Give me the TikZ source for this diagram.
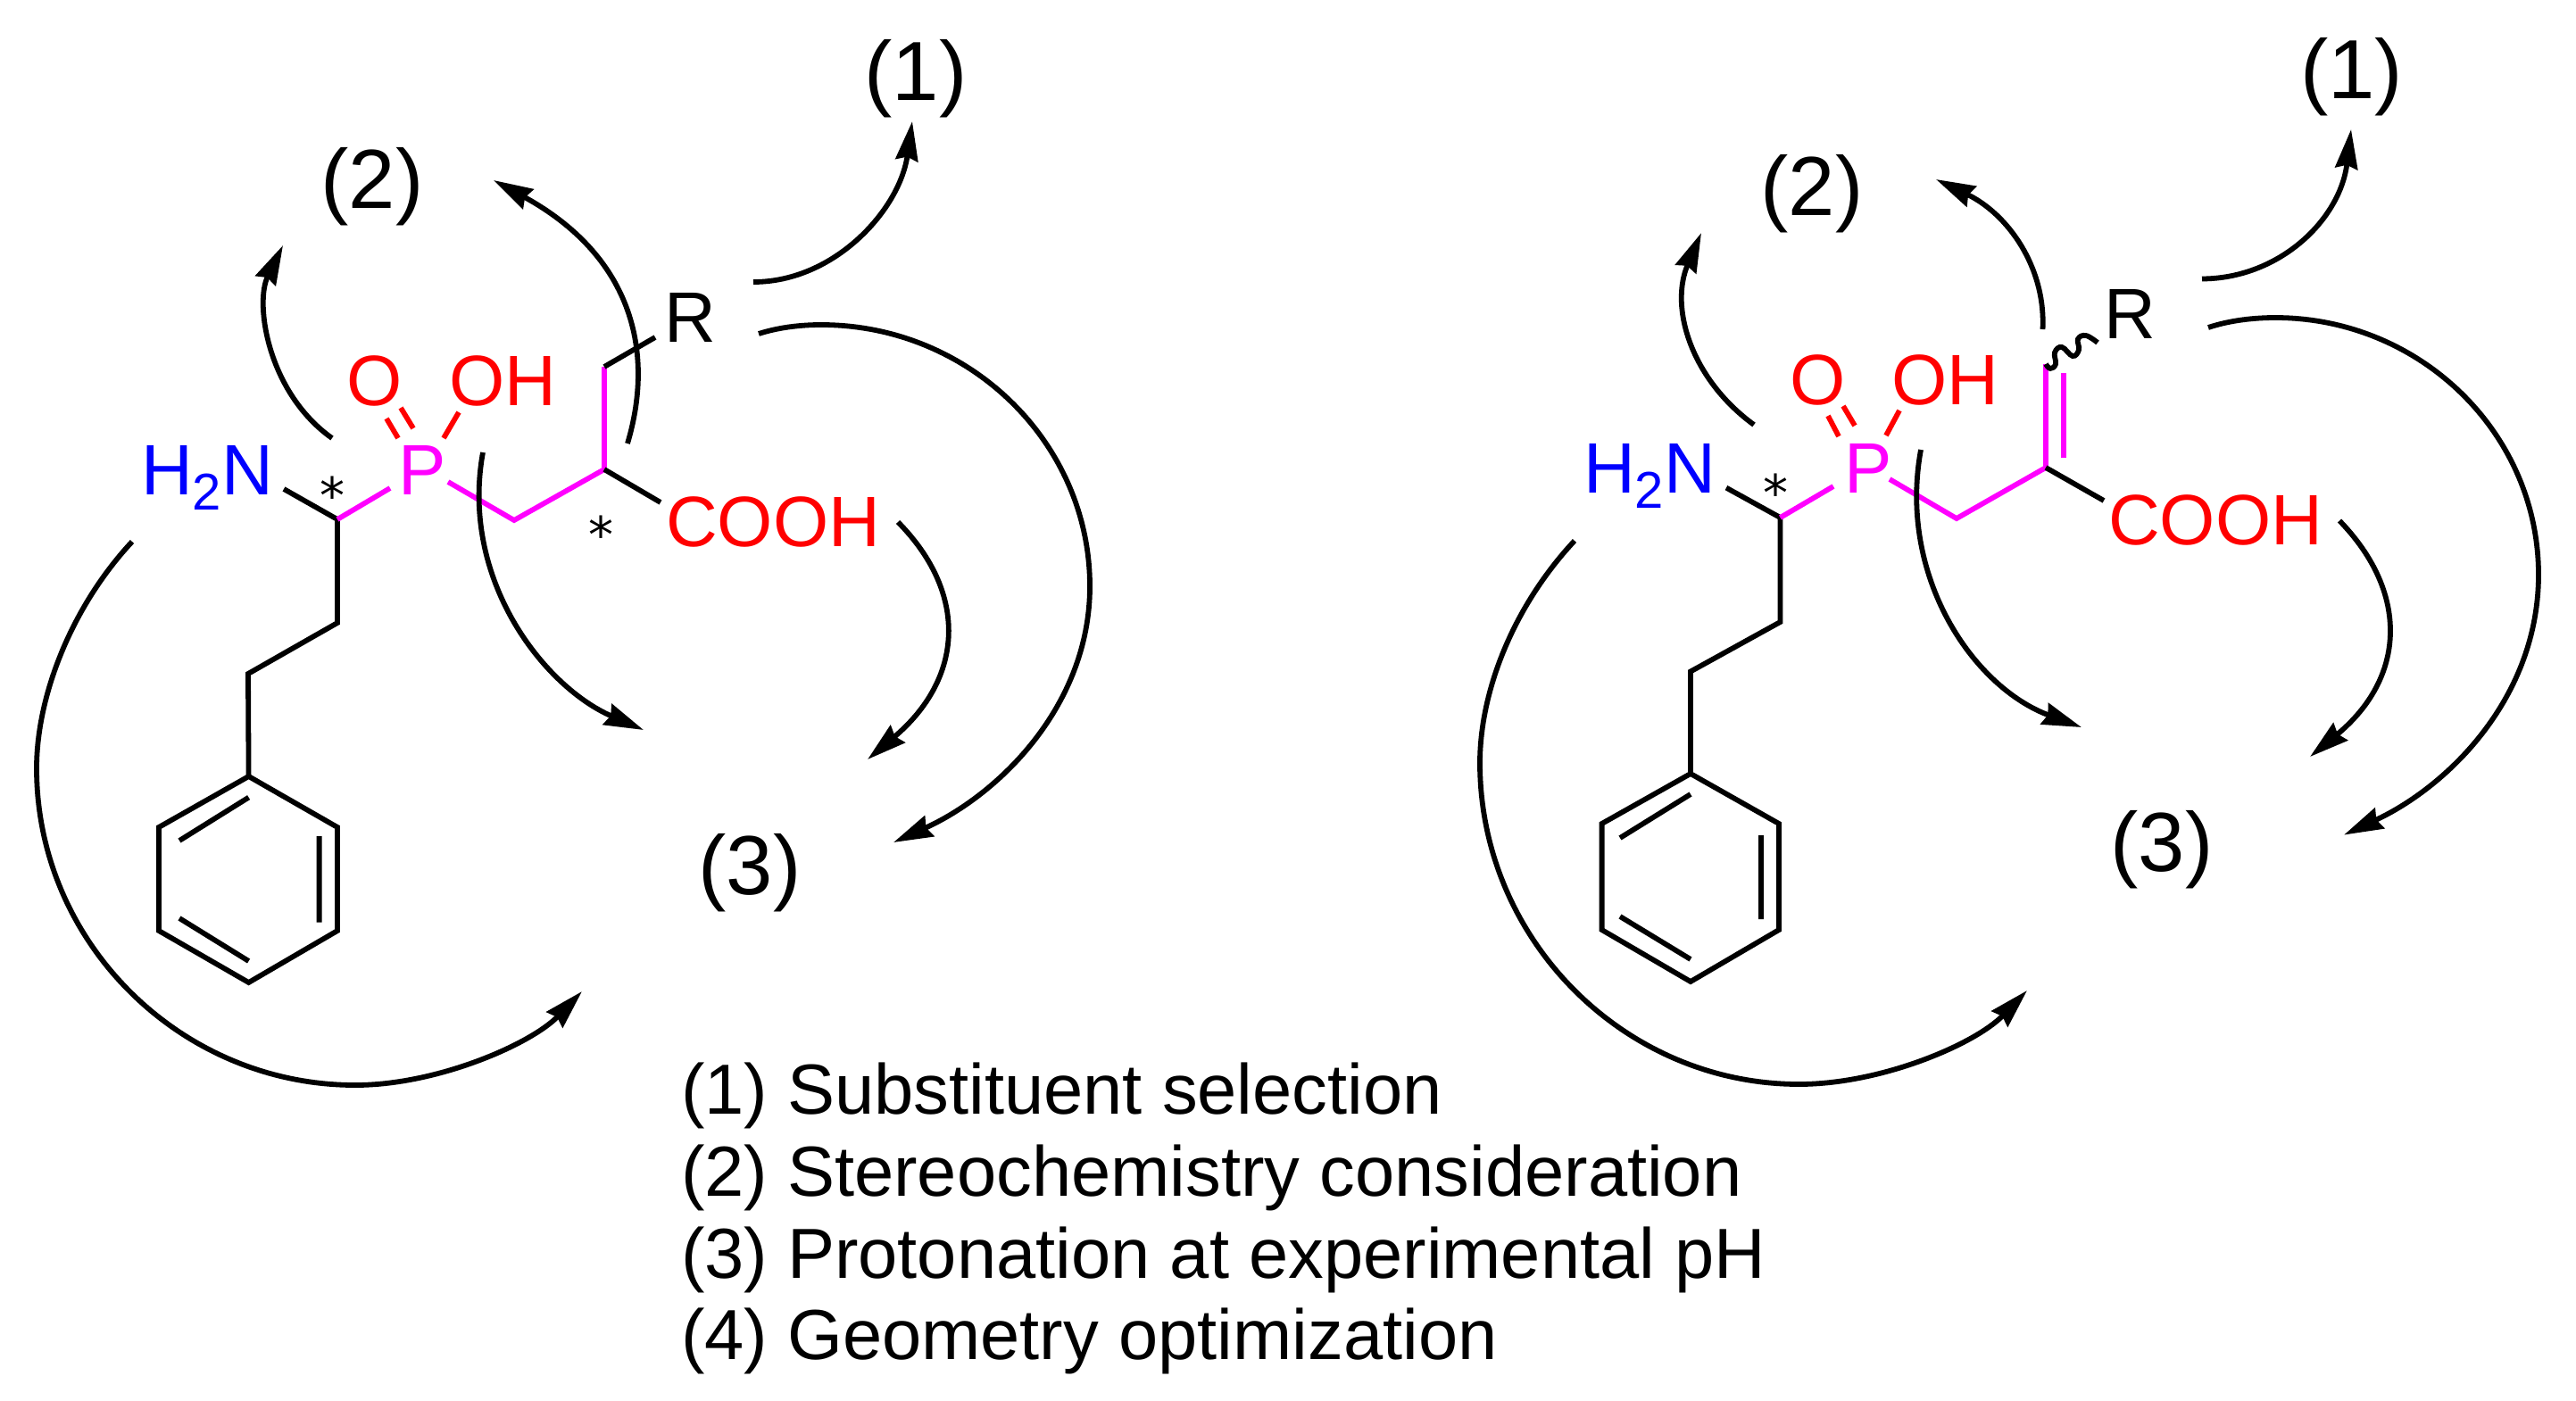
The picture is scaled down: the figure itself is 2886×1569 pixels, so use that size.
\documentclass[tikz,border=0pt]{standalone}
\usepackage{fontspec}
\setmainfont{Liberation Sans}
\newfontfamily\starfont{DejaVu Sans}
\usetikzlibrary{arrows.meta}
\tikzset{
  bond/.style={line width=5.8pt,black},
  pbond/.style={line width=5.8pt,magenta},
  rbond/.style={line width=5.8pt,red},
  arc/.style={line width=5.8pt,black,-{Stealth[length=44pt,width=25pt,inset=4pt]}},
  atom/.style={inner sep=0pt,outer sep=0pt,anchor=base west,font=\fontsize{80}{82}\selectfont},
  step label/.style={inner sep=0pt,outer sep=0pt,anchor=base,font=\fontsize{94}{96}\selectfont},
  legend/.style={inner sep=0pt,outer sep=0pt,anchor=base west,font=\fontsize{79.5}{80}\selectfont},
  starmark/.style={inner sep=0pt,outer sep=0pt,anchor=base,font=\starfont\fontsize{56}{60}\selectfont},
}
\definecolor{magenta}{RGB}{255,0,255}
\definecolor{red}{RGB}{255,0,0}
\definecolor{blue}{RGB}{0,0,255}
\newcommand{\Hsub}{H\raisebox{-17pt}{\fontsize{58}{58}\selectfont 2}N}
\begin{document}
\begin{tikzpicture}[x=1pt,y=-1pt]
\useasboundingbox (0,0) rectangle (2886,1569);
% ===== left molecule =====
\coordinate (c1) at (378,582);
\coordinate (cn) at (318,548);
\coordinate (cp) at (437,547);
\coordinate (pc) at (502,540);
\coordinate (ch2) at (576,583);
\coordinate (ch) at (677,526);
\coordinate (cr) at (677,411);
\coordinate (rb) at (734,378);
\coordinate (cooh) at (740,563);
\coordinate (c2) at (378,698);
\coordinate (c3) at (278,755);
\coordinate (r1) at (278.6,870);
\coordinate (r2) at (378,927);
\coordinate (r3) at (378,1043);
\coordinate (r4) at (278.6,1101);
\coordinate (r5) at (178,1043);
\coordinate (r6) at (178,927);
\node[atom,text=blue] (nh) at (158,554) {\Hsub};
\node[atom,text=magenta] (pa) at (446,554) {P};
\node[atom,text=red] (oa) at (388,454) {O};
\node[atom,text=red] (oh) at (503,454) {OH};
\node[atom] (ra) at (744,383) {R};
\node[atom,text=red] (ca) at (746,612) {COOH};
\node[starmark] (s1) at (372,575) {*};
\node[starmark] (s2) at (673,619) {*};
\draw[bond] (cn) -- (c1) -- (c2) -- (c3) -- (r1);
\draw[pbond] (c1) -- (cp);
\draw[pbond,line join=miter] (pc) -- (ch2) -- (ch) -- (cr);
\draw[bond] (cr) -- (rb);
\draw[bond] (ch) -- (cooh);
\draw[rbond] (433,469) -- (446,491) (449,457) -- (463,480) (514,462) -- (497,491);
\draw[bond,line join=miter] (r1) -- (r2) -- (r3) -- (r4) -- (r5) -- (r6) -- cycle;
\draw[bond] (278.6,893.6) -- (201,942) (357.6,937) -- (357.6,1033.5) (201,1029) -- (278.6,1077);
% labels
\node[step label] (l1a) at (1026,112) {(1)};
\node[step label] (l2a) at (417,233) {(2)};
\node[step label] (l3a) at (840,1002) {(3)};
% arrows
\coordinate (a1s) at (844,316); \coordinate (a1e) at (1022,136);
\draw[arc] (a1s) .. controls (935,316) and (1008,235) .. (a1e);
\coordinate (a2s) at (372,491); \coordinate (a2e) at (317,275);
\draw[arc] (a2s) .. controls (300,440) and (285,340) .. (a2e);
\coordinate (a3s) at (703,497); \coordinate (a3e) at (553,202);
\draw[arc] (a3s) .. controls (735,390) and (705,285) .. (a3e);
\coordinate (a4s) at (541,507); \coordinate (a4e) at (721,818);
\draw[arc] (a4s) .. controls (515,650) and (610,770) .. (a4e);
\coordinate (a5s) at (1006,585); \coordinate (a5e) at (972,851);
\draw[arc] (a5s) .. controls (1085,665) and (1080,760) .. (a5e);
\coordinate (a6s) at (850,374); \coordinate (a6t) at (920,364); \coordinate (a6m) at (1221,657); \coordinate (a6e) at (1001,944);
\draw[arc] (a6s) .. controls (872,367) and (896,364) .. (a6t) .. controls (1086,364) and (1221,496) .. (a6m) .. controls (1221,790) and (1120,890) .. (a6e);
\coordinate (a7s) at (148,607); \coordinate (a7m) at (41,861); \coordinate (a7b) at (398,1216); \coordinate (a7e) at (652,1111);
\draw[arc] (a7s) .. controls (80,680) and (41,780) .. (a7m) .. controls (41,1056) and (202,1216) .. (a7b) .. controls (490,1216) and (595,1170) .. (a7e);
% ===== right molecule =====
\coordinate (dc1) at (1994.5,580);
\coordinate (dcn) at (1934,546.6);
\coordinate (dcp) at (2054,545);
\coordinate (dpc) at (2117,537);
\coordinate (dch2) at (2192,581);
\coordinate (dch) at (2292,524);
\coordinate (dcr) at (2292,408);
\coordinate (dsq) at (2350,384);
\coordinate (dcooh) at (2357,561);
\coordinate (dc2) at (1994.5,697);
\coordinate (dc3) at (1894,752.5);
\coordinate (dr1) at (1894,867);
\coordinate (dr2) at (1993,923);
\coordinate (dr3) at (1993,1042);
\coordinate (dr4) at (1894,1100);
\coordinate (dr5) at (1794.6,1042);
\coordinate (dr6) at (1794.6,923);
\node[atom,text=blue] (dnh) at (1774,552) {\Hsub};
\node[atom,text=magenta] (dpa) at (2066,552) {P};
\node[atom,text=red] (doa) at (2005,453) {O};
\node[atom,text=red] (doh) at (2119,453) {OH};
\node[atom] (dra) at (2357,379) {R};
\node[atom,text=red] (dca) at (2362,610) {COOH};
\node[starmark] (ds1) at (1989,572) {*};
\draw[bond] (dcn) -- (dc1) -- (dc2) -- (dc3) -- (dr1);
\draw[pbond] (dc1) -- (dcp);
\draw[pbond,line join=miter] (dpc) -- (dch2) -- (dch) -- (dcr);
\draw[pbond] (2312,513) -- (2312,418);
\draw[bond] (dch) -- (dcooh);
\draw[bond] plot[smooth,tension=0.7] coordinates {(dcr) (2297,413) (2303,408) (2302,395) (2310,389) (2322,399) (2329,392) (2328,380) (2337,376) (dsq)};
\draw[rbond] (2060,489) -- (2048,466) (2078,477) -- (2065,455) (2113,488) -- (2128,460);
\draw[bond,line join=miter] (dr1) -- (dr2) -- (dr3) -- (dr4) -- (dr5) -- (dr6) -- cycle;
\draw[bond] (1894,890) -- (1815,939) (1973,936) -- (1973,1030) (1815,1027) -- (1894,1075);
\node[step label] (l1b) at (2634.6,110) {(1)};
\node[step label] (l2b) at (2030,241) {(2)};
\node[step label] (l3b) at (2422,976) {(3)};
\coordinate (b1s) at (2467,312.5); \coordinate (b1e) at (2634,145);
\draw[arc] (b1s) .. controls (2555,312) and (2622,245) .. (b1e);
\coordinate (b2s) at (1965,476); \coordinate (b2e) at (1906,261);
\draw[arc] (b2s) .. controls (1895,425) and (1870,345) .. (b2e);
\coordinate (b3s) at (2288.5,369); \coordinate (b3e) at (2169,201);
\draw[arc] (b3s) .. controls (2292,300) and (2250,240) .. (b3e);
\coordinate (b4s) at (2152,504); \coordinate (b4e) at (2332,815);
\draw[arc] (b4s) .. controls (2126,645) and (2210,770) .. (b4e);
\coordinate (b5s) at (2621,583.5); \coordinate (b5e) at (2588,848);
\draw[arc] (b5s) .. controls (2700,665) and (2695,760) .. (b5e);
\coordinate (b6s) at (2474,367); \coordinate (b6t) at (2549,356); \coordinate (b6m) at (2844,644); \coordinate (b6e) at (2626,935.6);
\draw[arc] (b6s) .. controls (2498,359) and (2525,356) .. (b6t) .. controls (2711,356) and (2844,485) .. (b6m) .. controls (2844,780) and (2745,880) .. (b6e);
\coordinate (b7s) at (1764,606); \coordinate (b7m) at (1658,855); \coordinate (b7b) at (2015.5,1215); \coordinate (b7e) at (2271,1110);
\draw[arc] (b7s) .. controls (1695,680) and (1658,775) .. (b7m) .. controls (1658,1052) and (1819,1215) .. (b7b) .. controls (2108,1215) and (2213,1170) .. (b7e);
% ===== legend =====
\node[legend] (t1) at (763,1248) {(1) Substituent selection};
\node[legend] (t2) at (763,1340) {(2) Stereochemistry consideration};
\node[legend] (t3) at (763,1432) {(3) Protonation at experimental pH};
\node[legend] (t4) at (763,1523) {(4) Geometry optimization};
\end{tikzpicture}
\end{document}
